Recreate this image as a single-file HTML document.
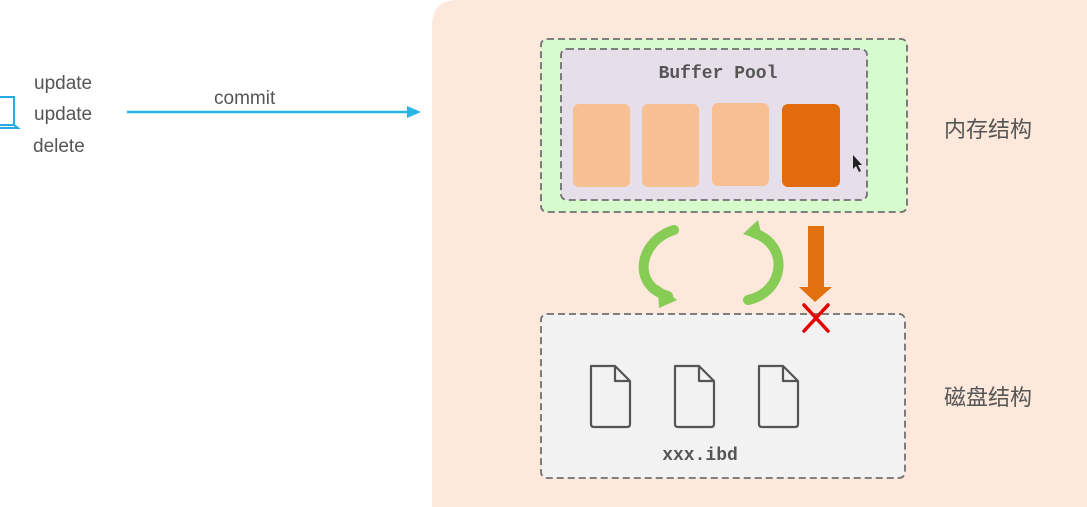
<!DOCTYPE html>
<html><head><meta charset="utf-8"><style>
html,body{margin:0;padding:0;background:#fff;width:1087px;height:507px;overflow:hidden;}
svg{display:block;}
</style></head><body>
<svg width="1087" height="507" viewBox="0 0 1087 507" xmlns="http://www.w3.org/2000/svg">
<path d="M432 507 V26 Q432 0 458 0 H1087 V507 Z" fill="#fde8dc"/>
<path d="M0 97 H14 V125 H0" fill="none" stroke="#29abe2" stroke-width="2"/>
<path d="M0 128 H18 L14 125" fill="none" stroke="#29abe2" stroke-width="2"/>
<g font-family="Liberation Sans, sans-serif" font-size="19" fill="#555">
<text x="34" y="89">update</text>
<text x="34" y="120">update</text>
<text x="33" y="152">delete</text>
<text x="214" y="104">commit</text>
</g>
<line x1="127" y1="112" x2="410" y2="112" stroke="#29b6e6" stroke-width="2.5"/>
<polygon points="421,112 407,106 407,118" fill="#29b6e6"/>
<rect x="541" y="39" width="366" height="173" rx="6" fill="#d6fbcc" stroke="#707070" stroke-width="1.8" stroke-dasharray="7,4"/>
<rect x="561" y="49" width="306" height="151" rx="6" fill="#e6dfea" stroke="#707070" stroke-width="1.8" stroke-dasharray="7,4"/>
<text x="718" y="78" text-anchor="middle" font-family="Liberation Mono, monospace" font-weight="bold" font-size="18" fill="#555">Buffer Pool</text>
<rect x="573" y="104" width="57" height="83" rx="6" fill="#f8bf92"/>
<rect x="642" y="104" width="57" height="83" rx="6" fill="#f8bf92"/>
<rect x="712" y="103" width="57" height="83" rx="6" fill="#f8bf92"/>
<rect x="782" y="104" width="58" height="83" rx="6" fill="#e26b0e"/>
<polygon points="853,155 853,169 856,166 859,172 861,171 858,165 862,165" fill="#222"/>
<g font-family="Liberation Sans, Noto Sans CJK SC, sans-serif" font-size="22" fill="#555">
<text x="944" y="137">内存结构</text>
<text x="944" y="405">磁盘结构</text>
</g>
<path d="M674 230 C640 240 630 285 668 296" fill="none" stroke="#86cc55" stroke-width="10" stroke-linecap="round"/>
<polygon points="658,285 677,300 659,308" fill="#86cc55"/>
<path d="M748 300 C785 292 790 245 754 233" fill="none" stroke="#86cc55" stroke-width="10" stroke-linecap="round"/>
<polygon points="743,234 758,220 763,241" fill="#86cc55"/>
<rect x="808" y="226" width="16" height="62" fill="#e2700e"/>
<polygon points="799,287 832,287 815,302" fill="#e2700e"/>
<rect x="541" y="314" width="364" height="164" rx="6" fill="#f2f2f2" stroke="#707070" stroke-width="1.8" stroke-dasharray="7,4"/>
<g stroke="#e60000" stroke-width="3.5" stroke-linecap="round">
<line x1="804" y1="305" x2="828" y2="331"/><line x1="828" y1="305" x2="804" y2="331"/>
</g>
<g fill="none" stroke="#555" stroke-width="2.2" stroke-linejoin="round">
<path d="M591 366 H615 L630 381 V424 Q630 427 627 427 H594 Q591 427 591 424 Z M615 366 V381 H630"/>
<path d="M675 366 H699 L714 381 V424 Q714 427 711 427 H678 Q675 427 675 424 Z M699 366 V381 H714"/>
<path d="M759 366 H783 L798 381 V424 Q798 427 795 427 H762 Q759 427 759 424 Z M783 366 V381 H798"/>
</g>
<text x="700" y="460" text-anchor="middle" font-family="Liberation Mono, monospace" font-weight="bold" font-size="18" fill="#555">xxx.ibd</text>
</svg>
</body></html>
